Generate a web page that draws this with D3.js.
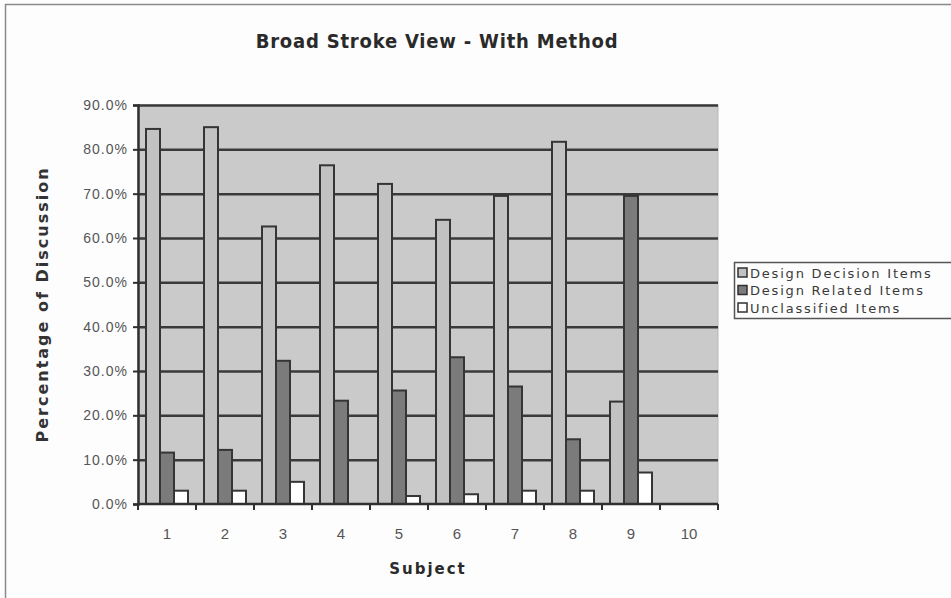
<!DOCTYPE html>
<html>
<head>
<meta charset="utf-8">
<script src="https://cdn.jsdelivr.net/npm/d3@7"></script>
<style>
  html, body { margin: 0; padding: 0; background: #fdfdfd; }
  svg { display: block; }
</style>
</head>
<body>
<svg id="chart" width="951" height="598"></svg>
<script>
// Share of discussion per subject, split into three kinds of items
const subjects = ["1", "2", "3", "4", "5", "6", "7", "8", "9", "10"];
const seriesNames = ["Design Decision Items", "Design Related Items", "Unclassified Items"];
const decisionItems     = [84.6, 85.0, 62.6, 76.4, 72.2, 64.1, 69.5, 81.7, 23.1, 0];
const relatedItems      = [11.6, 12.2, 32.3, 23.3, 25.6, 33.1, 26.5, 14.6, 69.5, 0];
const unclassifiedItems = [3.0, 3.0, 5.0, 0.0, 1.8, 2.2, 3.0, 3.0, 7.1, 0];
const yTicks = [0, 10, 20, 30, 40, 50, 60, 70, 80, 90];
const seriesFill = ["#c2c2c2", "#7b7b7b", "#ffffff"];

const seriesValues = [decisionItems, relatedItems, unclassifiedItems];
const rows = subjects.map((s, i) => ({
  subject: s,
  values: seriesNames.map((name, k) => ({ name, k, value: seriesValues[k][i] }))
}));

const svg = d3.select("#chart");
const plot = { left: 138, right: 718, top: 105, bottom: 504 };

// chart frame
svg.append("rect")
  .attr("x", 5.5).attr("y", 4.5)
  .attr("width", 970).attr("height", 620)
  .attr("fill", "#fdfdfd")
  .attr("stroke", "#8a8a8a").attr("stroke-width", 1.5);

const x = d3.scaleBand()
  .domain(subjects)
  .range([plot.left, plot.right])
  .paddingInner(16 / 58)
  .paddingOuter(8 / 58);

const xSeries = d3.scaleBand()
  .domain(seriesNames)
  .range([0, x.bandwidth()]);

const y = d3.scaleLinear().domain([0, 90]).range([plot.bottom, plot.top]);

// plot background
svg.append("rect")
  .attr("x", plot.left).attr("y", plot.top)
  .attr("width", plot.right - plot.left).attr("height", plot.bottom - plot.top)
  .attr("fill", "#cacaca")
  .attr("stroke", "#b8b8b8").attr("stroke-width", 1);

// horizontal gridlines
svg.append("g")
  .attr("transform", `translate(${plot.left},0)`)
  .call(d3.axisLeft(y).tickValues(yTicks.slice(1)).tickSize(-(plot.right - plot.left)).tickFormat(""))
  .call(g => g.select(".domain").remove())
  .call(g => g.selectAll("line").attr("stroke", "#3a3a3a").attr("stroke-width", 2.5));

// bars
const groups = svg.append("g").selectAll("g")
  .data(rows)
  .join("g")
  .attr("transform", d => `translate(${x(d.subject)},0)`);

groups.selectAll("rect")
  .data(d => d.values.filter(v => v.value > 0))
  .join("rect")
  .attr("x", d => xSeries(d.name))
  .attr("y", d => y(d.value))
  .attr("width", xSeries.bandwidth())
  .attr("height", d => y(0) - y(d.value))
  .attr("fill", d => seriesFill[d.k])
  .attr("stroke", "#353535")
  .attr("stroke-width", 2);

// y axis
const yAxis = svg.append("g")
  .attr("transform", `translate(${plot.left},0)`)
  .call(d3.axisLeft(y).tickValues(yTicks).tickSize(5).tickPadding(5)
    .tickFormat(d => d.toFixed(1) + "%"));
yAxis.select(".domain").attr("stroke", "#303030").attr("stroke-width", 2.5);
yAxis.selectAll(".tick line").attr("stroke", "#303030").attr("stroke-width", 2);
yAxis.selectAll(".tick text")
  .attr("font-family", "'Liberation Sans', Arial, sans-serif")
  .attr("font-size", 14)
  .attr("letter-spacing", 1)
  .attr("fill", "#555");

// x axis: category labels
const xAxis = svg.append("g")
  .attr("transform", `translate(0,${plot.bottom})`)
  .call(d3.axisBottom(x).tickSize(0).tickPadding(24));
xAxis.select(".domain").attr("stroke", "#303030").attr("stroke-width", 2.5)
  .attr("d", `M${plot.left},0H${plot.right}`);
xAxis.selectAll(".tick text")
  .attr("font-family", "'Liberation Sans', Arial, sans-serif")
  .attr("font-size", 15)
  .attr("fill", "#555");

// x axis: tick marks between categories
const boundaries = d3.range(subjects.length + 1).map(i => plot.left + i * x.step());
xAxis.selectAll(".bound")
  .data(boundaries)
  .join("line")
  .attr("class", "bound")
  .attr("x1", d => d).attr("x2", d => d)
  .attr("y1", 0).attr("y2", 6)
  .attr("stroke", "#303030").attr("stroke-width", 2);

// title
svg.append("text")
  .attr("x", 437).attr("y", 48)
  .attr("text-anchor", "middle")
  .attr("font-family", "'DejaVu Sans Condensed', 'DejaVu Sans', sans-serif")
  .attr("font-weight", "bold")
  .attr("font-size", 20)
  .attr("letter-spacing", 0.8)
  .attr("fill", "#2a2a2a")
  .text("Broad Stroke View - With Method");

// axis titles
svg.append("text")
  .attr("transform", `translate(48,${(plot.top + plot.bottom) / 2}) rotate(-90)`)
  .attr("text-anchor", "middle")
  .attr("font-family", "'DejaVu Sans', sans-serif")
  .attr("font-weight", "bold")
  .attr("font-size", 16)
  .attr("letter-spacing", 2)
  .attr("fill", "#333")
  .text("Percentage of Discussion");

svg.append("text")
  .attr("x", (plot.left + plot.right) / 2).attr("y", 574)
  .attr("text-anchor", "middle")
  .attr("font-family", "'DejaVu Sans', sans-serif")
  .attr("font-weight", "bold")
  .attr("font-size", 15)
  .attr("letter-spacing", 2)
  .attr("fill", "#2a2a2a")
  .text("Subject");

// legend
const legend = svg.append("g").attr("transform", "translate(734,262)");
legend.append("rect")
  .attr("x", 0.5).attr("y", 0.5)
  .attr("width", 240).attr("height", 56)
  .attr("fill", "#fdfdfd")
  .attr("stroke", "#555").attr("stroke-width", 1.5);

const items = legend.selectAll(".item")
  .data(seriesNames)
  .join("g")
  .attr("class", "item")
  .attr("transform", (d, i) => `translate(0,${10.5 + i * 17.5})`);
items.append("rect")
  .attr("x", 4).attr("y", -4.5)
  .attr("width", 9).attr("height", 9)
  .attr("fill", (d, i) => seriesFill[i])
  .attr("stroke", "#303030").attr("stroke-width", 1.5);
items.append("text")
  .attr("x", 16).attr("y", 5)
  .attr("font-family", "'DejaVu Sans', sans-serif")
  .attr("font-size", 13)
  .attr("letter-spacing", 1.8)
  .attr("fill", "#3a3a3a")
  .text(d => d);
</script>
</body>
</html>
